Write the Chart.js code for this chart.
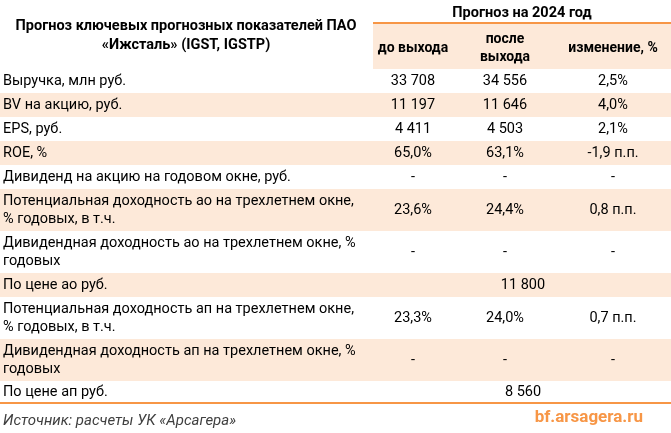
<!DOCTYPE html>
<html>
<head>
<meta charset="utf-8">
<script src="https://cdn.jsdelivr.net/npm/chart.js@4"></script>
<style>
  html, body { margin: 0; padding: 0; background: #fff; }
</style>
</head>
<body>
<canvas id="tableChart" width="671" height="433"></canvas>
<script>
const titleLines = ['Прогноз ключевых прогнозных показателей ПАО', '«Ижсталь» (IGST, IGSTP)'];
const groupHeader = 'Прогноз на 2024 год';
const columnHeaders = [['до выхода'], ['после', 'выхода'], ['изменение, %']];
const rowLabels = [
    ['Выручка, млн руб.'],
    ['BV на акцию, руб.'],
    ['EPS, руб.'],
    ['ROE, %'],
    ['Дивиденд на акцию на годовом окне, руб.'],
    ['Потенциальная доходность ао на трехлетнем окне,', '% годовых, в т.ч.'],
    ['Дивидендная доходность ао на трехлетнем окне, %', 'годовых'],
    ['По цене ао руб.'],
    ['Потенциальная доходность ап на трехлетнем окне,', '% годовых, в т.ч.'],
    ['Дивидендная доходность ап на трехлетнем окне, %', 'годовых'],
    ['По цене ап руб.']
];
const beforeValues = ['33 708', '11 197', '4 411', '65,0%', '-', '23,6%', '-', null, '23,3%', '-', null];
const afterValues = ['34 556', '11 646', '4 503', '63,1%', '-', '24,4%', '-', null, '24,0%', '-', null];
const changeValues = ['2,5%', '4,0%', '2,1%', '-1,9 п.п.', '-', '0,8 п.п.', '-', null, '0,7 п.п.', '-', null];
const mergedValues = [null, null, null, null, null, null, null, '11 800', null, null, '8 560'];
const sourceText = 'Источник: расчеты УК «Арсагера»';
const siteText = 'bf.arsagera.ru';

// границы строк и колонок в координатах шкал
const rowEdges = [69, 93, 117, 141, 165, 189, 231, 273, 297, 339, 381, 403];
const shadedRows = [1, 3, 5, 7, 9];
const colCenters = [413, 505, 613];
const mergedCenter = 523;
const headerLeft = 373;

const PEACH = '#fde9d9';
const ORANGE = '#f79646';
const FONT = 'Roboto, "Open Sans", sans-serif';

const tablePlugin = {
    id: 'tablePlugin',
    afterDraw(chart) {
        const ctx = chart.ctx;
        const sx = chart.scales.x;
        const sy = chart.scales.y;
        const X = v => sx.getPixelForValue(v);
        const Y = v => sy.getPixelForValue(v);

        ctx.save();
        // заливка шапки и полос
        ctx.fillStyle = PEACH;
        ctx.fillRect(X(headerLeft), Y(24), X(671) - X(headerLeft), Y(69) - Y(24));
        shadedRows.forEach(i => {
            ctx.fillRect(X(0), Y(rowEdges[i]), X(671) - X(0), Y(rowEdges[i + 1]) - Y(rowEdges[i]));
        });

        ctx.strokeStyle = ORANGE;
        ctx.lineWidth = 2;
        ctx.beginPath();
        ctx.moveTo(X(headerLeft), Y(23)); ctx.lineTo(X(671), Y(23));
        ctx.moveTo(X(0), Y(403)); ctx.lineTo(X(671), Y(403));
        ctx.stroke();

        ctx.fillStyle = '#000';
        ctx.textBaseline = 'middle';
        ctx.textAlign = 'center';
        ctx.font = 'bold 14.5px ' + FONT;
        ctx.fillText(titleLines[0], X(186), Y(26));
        ctx.fillText(titleLines[1], X(186), Y(45));
        ctx.fillText(groupHeader, X(522), Y(13));
        ctx.font = 'bold 14px ' + FONT;
        columnHeaders.forEach((lines, c) => {
            const start = 48 - (lines.length - 1) * 9;
            lines.forEach((t, k) => ctx.fillText(t, X(colCenters[c]), Y(start + k * 18)));
        });

        ctx.font = '14.5px ' + FONT;
        rowLabels.forEach((lines, i) => {
            const mid = (rowEdges[i] + rowEdges[i + 1]) / 2;
            ctx.textAlign = 'left';
            const start = mid - (lines.length - 1) * 9;
            lines.forEach((t, k) => ctx.fillText(t, X(3), Y(start + k * 18)));
            ctx.textAlign = 'center';
            [beforeValues[i], afterValues[i], changeValues[i]].forEach((v, c) => {
                if (v !== null) ctx.fillText(v, X(colCenters[c]), Y(mid));
            });
            if (mergedValues[i] !== null) ctx.fillText(mergedValues[i], X(mergedCenter), Y(mid));
        });

        ctx.textAlign = 'left';
        ctx.fillStyle = '#404040';
        ctx.font = 'italic 15px ' + FONT;
        ctx.fillText(sourceText, X(3), Y(421));

        ctx.textAlign = 'right';
        ctx.fillStyle = ORANGE;
        ctx.font = 'bold 17px ' + FONT;
        ctx.fillText(siteText, X(643), Y(418));
        ctx.restore();
    }
};

new Chart(document.getElementById('tableChart'), {
    type: 'scatter',
    data: { datasets: [{ data: [], pointRadius: 0 }] },
    options: {
        responsive: false,
        animation: false,
        layout: { padding: 0 },
        plugins: { legend: { display: false }, tooltip: { enabled: false } },
        scales: {
            x: { type: 'linear', min: 0, max: 671, display: false },
            y: { type: 'linear', min: 0, max: 433, reverse: true, display: false }
        }
    },
    plugins: [tablePlugin]
});
</script>
</body>
</html>
